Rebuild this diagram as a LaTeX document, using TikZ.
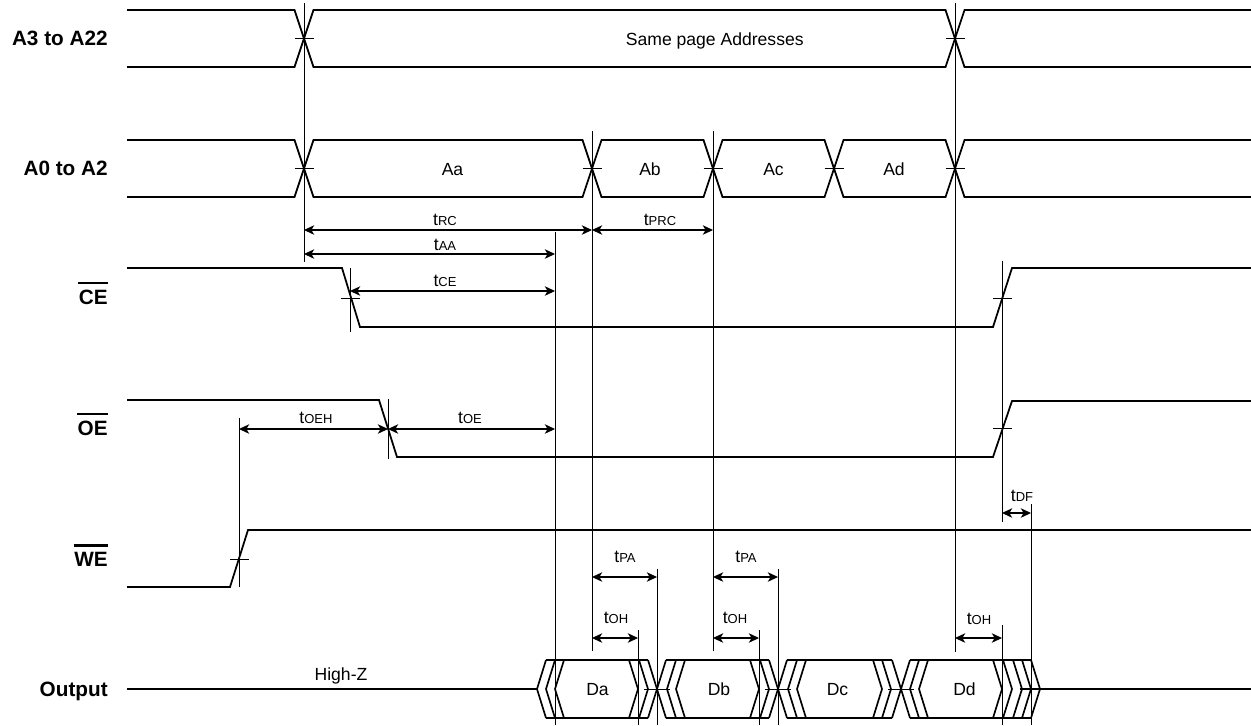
\documentclass[tikz,border=0pt]{standalone}
\usepackage{fontspec}
\setmainfont{Liberation Sans}
\usetikzlibrary{arrows.meta}
\newcommand\tlab[1]{t{\fontsize{7.4}{9}\selectfont #1}}
\begin{document}
\begin{tikzpicture}[x=0.02cm,y=-0.02cm,
  sig/.style={line width=1pt, line join=miter},
  outl/.style={line width=0.95pt, line join=miter},
  guide/.style={line width=0.5pt},
  dim/.style={line width=0.6pt, {Stealth[length=5.8pt,width=5.4pt,inset=1.6pt]}-{Stealth[length=5.8pt,width=5.4pt,inset=1.6pt]}},
  lbl/.style={font=\fontsize{11.8}{13}\selectfont\bfseries, anchor=base east, inner sep=0pt},
  txt/.style={font=\fontsize{10}{12}\selectfont, anchor=base, inner sep=0pt},
  ovl/.style={line width=1.5pt},
]
\useasboundingbox (0,0) rectangle (1251,725);

% ---------- labels ----------
\node[lbl] (lA3) at (108,45) {A3 to A22};
\node[lbl] (lA0) at (108,175) {A0 to A2};
\node[lbl] (lCE) at (108,304) {CE};
\node[lbl] (lOE) at (108,435) {OE};
\node[lbl] (lWE) at (108,566) {WE};
\node[lbl] (lOut) at (108,696) {Output};
\draw[ovl] ([yshift=3.5pt]lCE.north west) -- ([yshift=3.5pt]lCE.north east);
\draw[ovl] ([yshift=3.5pt]lOE.north west) -- ([yshift=3.5pt]lOE.north east);
\draw[ovl] ([yshift=3.5pt]lWE.north west) -- ([yshift=3.5pt]lWE.north east);

% ---------- A3 to A22 ----------
\draw[sig] (127,10) -- (294.5,10) -- (313.5,67) -- (945.5,67) -- (964.5,10) -- (1251,10);
\draw[sig] (127,67) -- (294.5,67) -- (313.5,10) -- (945.5,10) -- (964.5,67) -- (1251,67);
\node[txt, anchor=base east] (same) at (804,45) {Same page Addresses};
\foreach \x in {304,955} \draw[guide] (\x-9.5,38.5) -- (\x+9.5,38.5);

% ---------- A0 to A2 ----------
\draw[sig] (127,140) -- (294.5,140) -- (313.5,197) -- (582.5,197) -- (601.5,140) -- (703.5,140) -- (722.5,197) -- (824.5,197) -- (843.5,140) -- (945.5,140) -- (964.5,197) -- (1251,197);
\draw[sig] (127,197) -- (294.5,197) -- (313.5,140) -- (582.5,140) -- (601.5,197) -- (703.5,197) -- (722.5,140) -- (824.5,140) -- (843.5,197) -- (945.5,197) -- (964.5,140) -- (1251,140);
\foreach \x in {304,592,713,834,955} \draw[guide] (\x-9.5,168.5) -- (\x+9.5,168.5);
\node[txt] (Aa) at (452.5,175) {Aa};
\node[txt] (Ab) at (650,175) {Ab};
\node[txt] (Ac) at (773.5,175) {Ac};
\node[txt] (Ad) at (894,175) {Ad};

% ---------- CE, OE, WE ----------
\draw[sig] (127,268) -- (342,268) -- (360,327) -- (993,327) -- (1012,268) -- (1251,268);
\draw[sig] (127,400) -- (379,400) -- (397,457) -- (993,457) -- (1012,401) -- (1251,401);
\draw[sig] (127,587) -- (230,587) -- (248,530) -- (1251,530);
\draw[guide] (341,298) -- (360,298);
\draw[guide] (993,298) -- (1012,298);
\draw[guide] (993,428.5) -- (1012,428.5);
\draw[guide] (230,559) -- (249,559);

% ---------- Output ----------
\draw[outl] (127,689) -- (537,689);
\draw[outl] (1020,689) -- (1251,689);
\foreach \t in {537,546,555, 657,667,676, 778,788,797, 901,910,919}
  \draw[outl] (\t+9,660) -- (\t,689) -- (\t+9,718);
\foreach \t in {638,648,657, 759,769,778, 882,891,901, 1002,1012,1022,1031,1040}
  \draw[outl] (\t-9,660) -- (\t,689) -- (\t-9,718);
\foreach \a/\b in {546/648, 666/769, 787/892, 910/1031}
  { \draw[outl] (\a,660) -- (\b,660); \draw[outl] (\a,718) -- (\b,718); }
\foreach \x in {657,778,901} \draw[guide] (\x-13,689) -- (\x+13,689);
\node[txt] (hz) at (341,680) {High-Z};
\node[txt] (Da) at (597.5,695) {Da};
\node[txt] (Db) at (719,695) {Db};
\node[txt] (Dc) at (837.5,695) {Dc};
\node[txt] (Dd) at (964.5,695) {Dd};

% ---------- guide lines ----------
\draw[guide] (304,3) -- (304,262);
\draw[guide] (955,3) -- (955,652);
\draw[guide] (592,131) -- (592,651);
\draw[guide] (713,131) -- (713,651);
\draw[guide] (555,232) -- (555,725);
\draw[guide] (350,268) -- (350,332);
\draw[guide] (388,399) -- (388,459);
\draw[guide] (239,418) -- (239,587);
\draw[guide] (1002,261) -- (1002,522);
\draw[guide] (1002,625) -- (1002,725);
\draw[guide] (1031,504) -- (1031,725);
\draw[guide] (657,569) -- (657,725);
\draw[guide] (778,569) -- (778,725);
\draw[guide] (638,630) -- (638,725);
\draw[guide] (759,630) -- (759,725);

% ---------- dimension arrows ----------
\coordinate (rcA) at (304,230); \coordinate (rcB) at (592,230);
\coordinate (prcB) at (713,230);
\coordinate (aaA) at (304,254); \coordinate (aaB) at (555,254);
\coordinate (ceA) at (350,291); \coordinate (ceB) at (555,291);
\coordinate (oehA) at (239,429); \coordinate (oehB) at (388,429);
\coordinate (oeB) at (555,429);
\coordinate (dfA) at (1002,513); \coordinate (dfB) at (1031,513);
\coordinate (pa1A) at (592,577); \coordinate (pa1B) at (657,577);
\coordinate (pa2A) at (713,577); \coordinate (pa2B) at (778,577);
\coordinate (oh1A) at (592,638); \coordinate (oh1B) at (638,638);
\coordinate (oh2A) at (713,638); \coordinate (oh2B) at (759,638);
\coordinate (oh3A) at (955,638); \coordinate (oh3B) at (1002,638);
\draw[dim] (rcA) -- (rcB);
\draw[dim] (rcB) -- (prcB);
\draw[dim] (aaA) -- (aaB);
\draw[dim] (ceA) -- (ceB);
\draw[dim] (oehA) -- (oehB);
\draw[dim] (oehB) -- (oeB);
\draw[dim] (dfA) -- (dfB);
\draw[dim] (pa1A) -- (pa1B);
\draw[dim] (pa2A) -- (pa2B);
\draw[dim] (oh1A) -- (oh1B);
\draw[dim] (oh2A) -- (oh2B);
\draw[dim] (oh3A) -- (oh3B);

\node[txt] (trc) at (445,225) {\tlab{RC}};
\node[txt] (tprc) at (660,225) {\tlab{PRC}};
\node[txt] (taa) at (445,250) {\tlab{AA}};
\node[txt] (tce) at (445,286) {\tlab{CE}};
\node[txt] (toeh) at (316,423) {\tlab{OEH}};
\node[txt] (toe) at (470,423) {\tlab{OE}};
\node[txt] (tdf) at (1022,501) {\tlab{DF}};
\node[txt] (tpa1) at (625,562) {\tlab{PA}};
\node[txt] (tpa2) at (746,562) {\tlab{PA}};
\node[txt] (toh1) at (616,623) {\tlab{OH}};
\node[txt] (toh2) at (735,623) {\tlab{OH}};
\node[txt] (toh3) at (979,624) {\tlab{OH}};
\end{tikzpicture}
\end{document}
